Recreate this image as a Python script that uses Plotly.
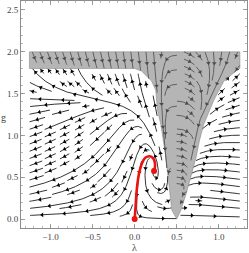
import numpy as np
import plotly.graph_objects as go

# ---------------- values ----------------
# boundary g_s(lambda) of the shaded region (shaded where g > g_s)
bound_lam = [-1.25, 0.00, 0.08, 0.20, 0.25, 0.27, 0.31, 0.37, 0.41, 0.44, 0.50,
             0.55, 0.62, 0.73, 0.77, 0.82, 0.94, 1.06, 1.24, 1.25]
bound_g = [1.80, 1.80, 1.77, 1.65, 1.54, 1.30, 1.13, 0.74, 0.33, 0.107, 0.00,
           0.107, 0.33, 0.74, 0.94, 1.13, 1.42, 1.65, 1.80, 1.80]
band_top = 2.0

# red trajectory and its two end points (fixed points)
red_lam = [0.00, 0.01, 0.024, 0.05, 0.09, 0.13, 0.18, 0.22, 0.24, 0.24, 0.23]
red_g = [0.00, 0.14, 0.34, 0.535, 0.675, 0.735, 0.75, 0.726, 0.675, 0.615, 0.575]
fp_lam = [0.00, 0.23]
fp_g = [0.00, 0.575]

# axis ticks
x_ticks = [-1.0, -0.5, 0.0, 0.5, 1.0]
x_tick_text = ["\u22121.0", "\u22120.5", "0.0", "0.5", "1.0"]
y_ticks = [0.0, 0.5, 1.0, 1.5, 2.0, 2.5]
y_tick_text = ["0.0", "0.5", "1.0", "1.5", "2.0", "2.5"]

# flow model (Einstein-Hilbert-type beta functions, IR direction)
K_B1 = 1.09
K_A = 1.2
P_SING = 3
LAM0, LAM1, G0, G1 = -1.25, 1.25, 0.0, 2.0


def beta_ir(l, g):
    u = 1.0 / (1.0 - 2.0 * l)
    gs = max(float(np.interp(l, bound_lam, bound_g)), 1e-3)
    D = 1.0 - (g / gs) ** P_SING
    B1 = K_B1 / (3 * np.pi) * (5 * u - 9 * u * u - 7)
    eta = g * B1 / D
    bg = (2 + eta) * g
    A = K_A / (2 * np.pi) * (5 * u - 4 - 5 * eta * u / 6)
    bl = -(2 - eta) * l + g * A
    return -bl, -bg


NXM, NYM = 28, 23
occ = np.zeros((NYM, NXM), dtype=bool)


def cell(l, g):
    j = int((l - LAM0) / (LAM1 - LAM0) * NXM)
    i = int((g - G0) / (G1 - G0) * NYM)
    return min(max(i, 0), NYM - 1), min(max(j, 0), NXM - 1)


def unit(l, g):
    try:
        u, v = beta_ir(l, g)
    except ZeroDivisionError:
        return None
    n = np.hypot(u, v)
    if not np.isfinite(n) or n < 1e-12:
        return None
    return u / n, v / n


def trace(l, g, sgn, visited, h=0.008, maxlen=3.0):
    pts = [(l, g)]
    cur = cell(l, g)
    L = 0.0
    prev = None
    while L < maxlen:
        d1 = unit(l, g)
        if d1 is None:
            break
        d1 = (sgn * d1[0], sgn * d1[1])
        d2 = unit(l + 0.5 * h * d1[0], g + 0.5 * h * d1[1])
        if d2 is None:
            break
        d2 = (sgn * d2[0], sgn * d2[1])
        if d1[0] * d2[0] + d1[1] * d2[1] < 0.6:
            break
        if prev is not None and prev[0] * d2[0] + prev[1] * d2[1] < 0.6:
            break
        l2, g2 = l + h * d2[0], g + h * d2[1]
        if not (LAM0 <= l2 <= LAM1 and G0 <= g2 <= G1):
            break
        c = cell(l2, g2)
        if c != cur:
            if occ[c] or c in visited:
                break
            visited.add(c)
            cur = c
        l, g = l2, g2
        pts.append((l, g))
        prev = d2
        L += h
    return pts, L


def spiral(nx, ny):
    xfirst, yfirst, xlast, ylast = 0, 1, nx - 1, ny - 1
    x, y = 0, 0
    d = 'right'
    for _ in range(nx * ny):
        yield x, y
        if d == 'right':
            x += 1
            if x >= xlast:
                xlast -= 1
                d = 'up'
        elif d == 'up':
            y += 1
            if y >= ylast:
                ylast -= 1
                d = 'left'
        elif d == 'left':
            x -= 1
            if x <= xfirst:
                xfirst += 1
                d = 'down'
        else:
            y -= 1
            if y <= yfirst:
                yfirst += 1
                d = 'right'


lines = []
for jx, iy in spiral(NXM, NYM):
    if occ[iy, jx]:
        continue
    l0 = LAM0 + (jx + 0.5) * (LAM1 - LAM0) / NXM + 0.003
    g0 = G0 + (iy + 0.5) * (G1 - G0) / NYM + 0.002
    visited = {(iy, jx)}
    fw, Lf = trace(l0, g0, 1, visited)
    bw, Lb = trace(l0, g0, -1, visited)
    if Lf + Lb < 0.06:
        continue
    for c in visited:
        occ[c] = True
    pts = bw[::-1] + fw[1:]
    lines.append(pts)

lx, ly = [], []
ax_, ay_, aang = [], [], []
PX_X = 226 / (1.334 + 1.350)
PX_Y = 228 / (2.607 + 0.107)
SPACING = 0.27
for pts in lines:
    arr = np.array(pts)
    lx.extend(arr[:, 0].tolist() + [None])
    ly.extend(arr[:, 1].tolist() + [None])
    seg = np.hypot(np.diff(arr[:, 0]), np.diff(arr[:, 1]))
    s = np.concatenate([[0], np.cumsum(seg)])
    L = s[-1]
    if L < SPACING:
        marks = [L / 2]
    else:
        marks = list(np.arange(SPACING / 2, L - 0.05, SPACING))
    for m in marks:
        k = int(np.searchsorted(s, m))
        k = min(max(k, 1), len(arr) - 1)
        dx = (arr[k, 0] - arr[k - 1, 0]) * PX_X
        dy = (arr[k, 1] - arr[k - 1, 1]) * PX_Y
        ax_.append(arr[k, 0])
        ay_.append(arr[k, 1])
        aang.append(float(np.degrees(np.arctan2(dx, dy))))

fig = go.Figure()
fig.add_trace(go.Scatter(x=lx, y=ly, mode='lines',
                         line=dict(color='black', width=0.8),
                         hoverinfo='skip'))
fig.add_trace(go.Scatter(x=ax_, y=ay_, mode='markers',
                         marker=dict(symbol='triangle-up', size=4, color='black',
                                     angle=aang, line=dict(width=0)),
                         hoverinfo='skip'))

poly_x = [LAM0] + bound_lam + [LAM1, LAM0]
poly_y = [band_top] + bound_g + [band_top, band_top]
fig.add_trace(go.Scatter(x=poly_x, y=poly_y, mode='lines', fill='toself',
                         fillcolor='rgba(128,128,128,0.58)',
                         line=dict(color='rgba(110,110,110,0.7)', width=0.6),
                         hoverinfo='skip'))

fig.add_trace(go.Scatter(x=red_lam, y=red_g, mode='lines',
                         line=dict(color='#e8140f', width=2.6, shape='spline'),
                         hoverinfo='skip'))
fig.add_trace(go.Scatter(x=fp_lam, y=fp_g, mode='markers',
                         marker=dict(color='#e8140f', size=6),
                         hoverinfo='skip'))

axis_common = dict(showgrid=False, zeroline=False, showline=True, automargin=False,
                   linecolor='#8c8c8c', linewidth=1, mirror='allticks',
                   ticks='inside', ticklen=4, tickcolor='#8c8c8c', tickwidth=0.8,
                   tickfont=dict(family='Liberation Serif', size=9, color='#444444'),
                   minor=dict(ticks='inside', ticklen=2, dtick=0.1, tick0=0,
                              tickcolor='#8c8c8c', tickwidth=0.6, showgrid=False))
fig.update_xaxes(range=[-1.350, 1.334], tickvals=x_ticks, ticktext=x_tick_text,
                 **axis_common)
fig.update_yaxes(range=[-0.107, 2.607], tickvals=y_ticks, ticktext=y_tick_text,
                 **axis_common)

fig.update_layout(width=249, height=253,
                  margin=dict(l=21, r=2, t=1, b=25, autoexpand=False),
                  plot_bgcolor='white', paper_bgcolor='white',
                  showlegend=False, hovermode=False,
                  annotations=[
                      dict(text='\u03bb', x=0.5, y=-0.088, xref='paper', yref='paper',
                           showarrow=False, xanchor='center', yanchor='middle',
                           font=dict(family='Liberation Serif', size=10, color='#444444')),
                      dict(text='g', x=-0.078, y=0.487, xref='paper', yref='paper',
                           showarrow=False, xanchor='center', yanchor='middle',
                           font=dict(family='Liberation Serif', size=10, color='#444444')),
                  ])

fig.write_html("out.html",
               config={'displayModeBar': False, 'staticPlot': True},
               post_script="document.body.style.margin='0px';"
                           "document.body.style.padding='0px';"
                           "document.documentElement.style.overflow='hidden';")
